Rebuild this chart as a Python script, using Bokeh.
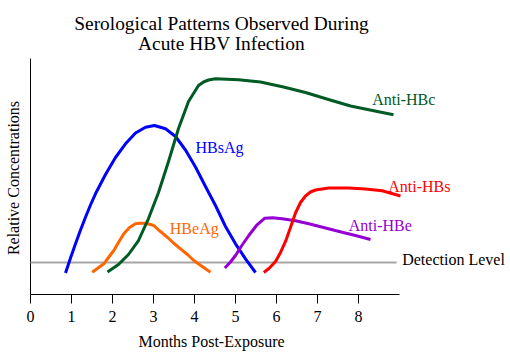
from bokeh.plotting import figure
from bokeh.models import Range1d, Label
from bokeh.core.properties import value
from bokeh.embed import file_html
from bokeh.resources import INLINE

# ---- data (months post-exposure, relative concentration 0-100) ----
month_ticks = [0, 1, 2, 3, 4, 5, 6, 7, 8]
month_labels = ["0", "1", "2", "3", "4", "5", "6", "7", "8"]
axis_x_end = 9
axis_y_top = 100
detection_level = 13.56
detection_x = [0.0, 8.93]

hbsag_x = [0.854, 0.976, 1.098, 1.220, 1.341, 1.463, 1.585, 1.829, 2.073, 2.317, 2.561, 2.805,
           3.024, 3.293, 3.537, 3.780, 4.024, 4.268, 4.512, 4.756, 5.0, 5.244, 5.488]
hbsag_y = [9.11, 15.47, 21.48, 27.33, 32.75, 37.92, 42.67, 50.85, 58.05, 63.86, 68.43, 70.89,
           71.61, 70.21, 66.95, 61.23, 54.03, 45.76, 37.71, 28.81, 21.48, 15.13, 9.32]

anti_hbc_x = [1.878, 2.146, 2.390, 2.634, 2.878, 3.122, 3.366, 3.610, 3.854, 4.098, 4.220, 4.341,
              4.512, 5.073, 5.610, 6.171, 6.707, 7.268, 7.805, 8.341, 8.854]
anti_hbc_y = [9.53, 12.71, 16.95, 22.88, 32.20, 43.22, 56.36, 70.34, 81.78, 88.56, 90.04, 90.89,
              91.40, 90.97, 90.04, 87.92, 85.59, 82.63, 79.87, 77.97, 76.14]

hbeag_x = [1.505, 1.788, 1.902, 2.032, 2.146, 2.276, 2.415, 2.561, 2.659, 2.763, 2.878, 3.007,
           3.171, 3.334, 3.488, 3.659, 3.829, 3.983, 4.171, 4.390]
hbeag_y = [9.45, 13.01, 15.68, 18.64, 22.03, 25.72, 28.39, 29.96, 30.17, 30.21, 29.87, 29.24,
           26.69, 24.28, 21.82, 19.36, 16.95, 14.41, 12.08, 9.45]

anti_hbe_x = [4.739, 4.878, 5.0, 5.146, 5.324, 5.512, 5.715, 5.902, 6.139, 6.463, 6.788, 7.195,
              7.602, 7.951, 8.293]
anti_hbe_y = [11.23, 13.77, 16.53, 20.55, 25.0, 29.24, 32.33, 32.50, 32.08, 31.23, 29.96, 28.18,
              26.40, 24.87, 23.31]

anti_hbs_x = [5.690, 5.829, 5.976, 6.098, 6.220, 6.341, 6.463, 6.585, 6.707, 6.829, 6.951, 7.268,
              7.756, 8.171, 8.578, 9.024]
anti_hbs_y = [9.32, 11.23, 13.98, 17.80, 22.46, 28.39, 34.53, 38.98, 41.74, 43.43, 44.28, 45.13,
              45.13, 44.70, 43.94, 41.74]

title_lines = ["Serological Patterns Observed During", "Acute HBV Infection"]
x_label = "Months Post-Exposure"
y_label = "Relative Concentrations"

FONT = "Liberation Serif"
PX_PER_MONTH = 41.0
PX_PER_UNIT = 2.36
LEFT, BOTTOM = 30, 61      # pixel offset of the data origin from left / bottom of canvas
W, H = 510, 355

p = figure(width=W, height=H, output_backend="svg", toolbar_location=None,
           x_axis_location=None, y_axis_location=None,
           x_range=Range1d(-LEFT / PX_PER_MONTH, (W - LEFT) / PX_PER_MONTH),
           y_range=Range1d(-BOTTOM / PX_PER_UNIT, (H - BOTTOM) / PX_PER_UNIT),
           min_border=0)
p.outline_line_color = None
p.grid.visible = False
p.background_fill_color = "white"
p.border_fill_color = "white"

tick_len = 9 / PX_PER_UNIT

# axes
p.line([0, axis_x_end], [0, 0], line_color="black", line_width=1)
p.line([0, 0], [0, axis_y_top], line_color="black", line_width=1)
p.segment(x0=month_ticks, y0=[0] * len(month_ticks), x1=month_ticks, y1=[-tick_len] * len(month_ticks),
          line_color="black", line_width=1)
p.text(x=month_ticks, y=[-9.41] * len(month_ticks), text=month_labels,
       text_font=value(FONT), text_font_size="16px", text_align="center",
       text_baseline="alphabetic", text_color="black")

# detection level
p.line(detection_x, [detection_level, detection_level], line_color="#A6A6A6", line_width=2)

curves = [
    (hbsag_x, hbsag_y, "#0000FF"),
    (hbeag_x, hbeag_y, "#FF6600"),
    (anti_hbc_x, anti_hbc_y, "#005A23"),
    (anti_hbe_x, anti_hbe_y, "#9400D3"),
    (anti_hbs_x, anti_hbs_y, "#FF0000"),
]
for xs, ys, c in curves:
    p.line(xs, ys, line_color=c, line_width=3, line_join="round")

labels = [
    ("HBsAg", 4.024, 62.33, "#0000FF"),
    ("HBeAg", 3.398, 28.03, "#FF6600"),
    ("Anti-HBc", 8.334, 82.83, "#005A23"),
    ("Anti-HBs", 8.724, 45.93, "#FF0000"),
    ("Anti-HBe", 7.763, 29.43, "#9400D3"),
    ("Detection Level", 9.066, 14.63, "black"),
]
for t, x, y, c in labels:
    p.add_layout(Label(x=x, y=y, text=t, text_color=c, text_font=FONT,
                       text_font_size="16px", text_align="left", text_baseline="alphabetic"))

# title
p.add_layout(Label(x=4.659, y=114.91, text=title_lines[0], text_font=FONT, text_font_size="19.4px",
                   text_align="center", text_baseline="alphabetic", text_color="black"))
p.add_layout(Label(x=4.659, y=106.44, text=title_lines[1], text_font=FONT, text_font_size="19.4px",
                   text_align="center", text_baseline="alphabetic", text_color="black"))

# axis labels
p.add_layout(Label(x=4.415, y=-19.83, text=x_label, text_font=FONT, text_font_size="16px",
                   text_align="center", text_baseline="alphabetic", text_color="black"))
p.add_layout(Label(x=-0.407, y=49.36, text=y_label, text_font=FONT, text_font_size="16px",
                   angle=1.5708, text_align="center", text_baseline="alphabetic", text_color="black"))

open("out.html", "w").write(file_html(p, INLINE))
